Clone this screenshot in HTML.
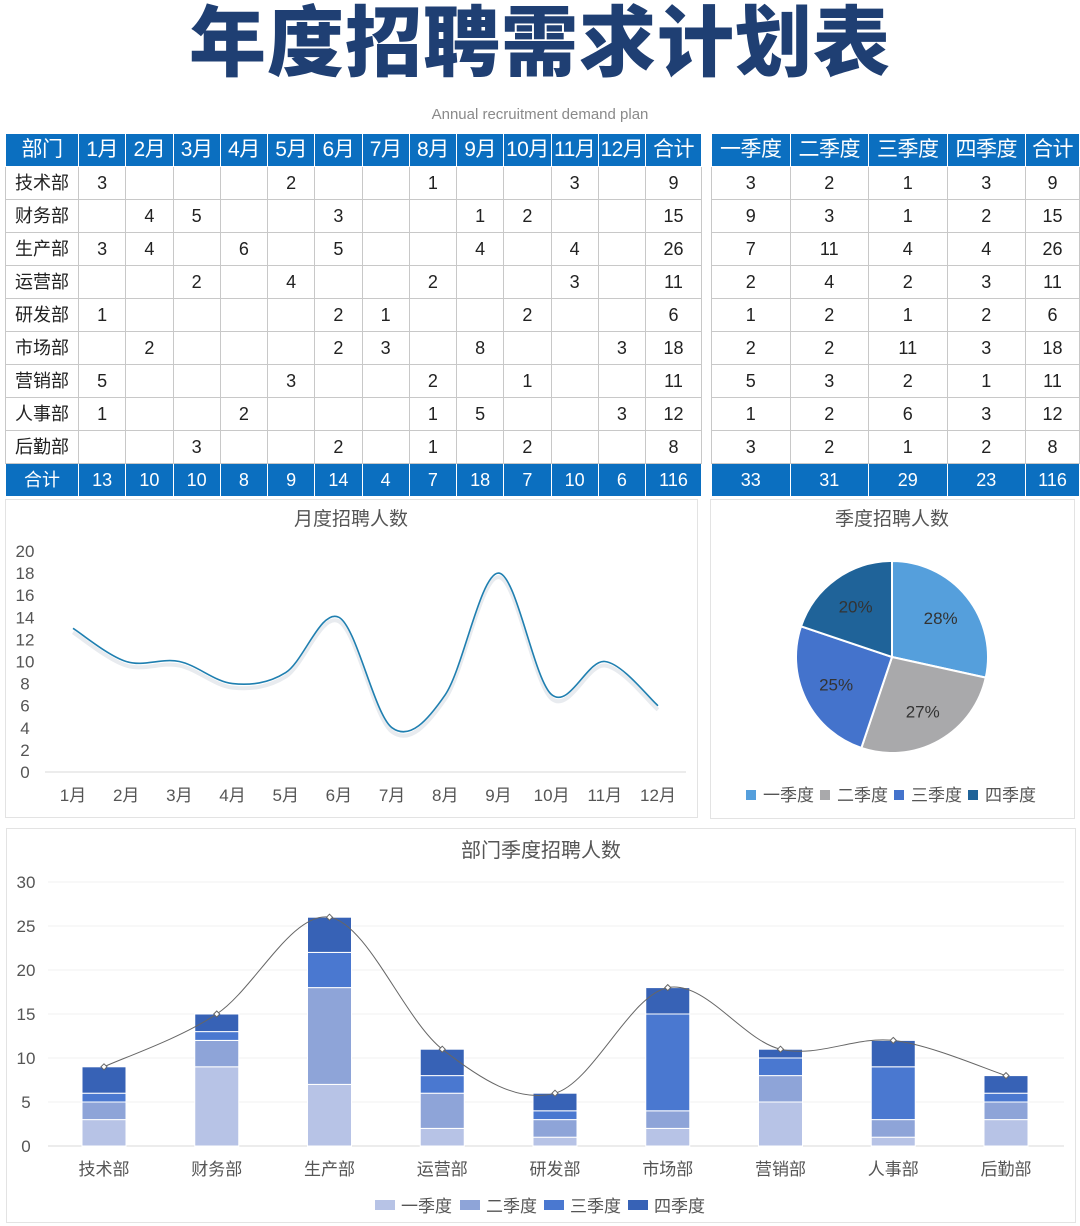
<!DOCTYPE html>
<html><head><meta charset="utf-8">
<style>
body{margin:0;width:1080px;height:1226px;background:#fff;font-family:"Liberation Sans","Noto Sans CJK SC",sans-serif;position:relative;overflow:hidden}
#title{position:absolute;left:0;top:-6px;width:1080px;text-align:center;font-size:77px;font-weight:900;color:#1f3f73;letter-spacing:1px;line-height:100px;white-space:nowrap}
#sub{position:absolute;left:0;top:106px;width:1080px;text-align:center;font-size:15px;color:#8a8a8a}
table{position:absolute;border-collapse:collapse;font-size:18px;color:#222;table-layout:fixed}
td{border:1px solid #c8c8c8;text-align:center;padding:0;height:32px;line-height:32px;white-space:nowrap;overflow:hidden}
tr.h td,tr.t td{background:#0b6fc0;color:#fff;font-size:21px;border-color:#fff;letter-spacing:-0.5px}
tr.t td{font-size:18px;letter-spacing:0}
.panel{position:absolute;border:1px solid #e3e3e3;background:#fff}
</style></head><body>
<div id="title">年度招聘需求计划表</div>
<div id="sub">Annual recruitment demand plan</div>
<table id="t1" style="left:5px;top:133px;width:692px"></table>
<table id="t2" style="left:711px;top:133px;width:363px"></table>
<div class="panel" style="left:5px;top:499px;width:691px;height:317px"></div>
<div class="panel" style="left:710px;top:499px;width:363px;height:318px"></div>
<div class="panel" style="left:6px;top:828px;width:1068px;height:393px"></div>
<svg id="sv" width="1080" height="1226" style="position:absolute;left:0;top:0" font-family="Liberation Sans, Noto Sans CJK SC, sans-serif"></svg>
<script>
const depts=["技术部","财务部","生产部","运营部","研发部","市场部","营销部","人事部","后勤部"];
const months=["1月","2月","3月","4月","5月","6月","7月","8月","9月","10月","11月","12月"];
const grid=[
[3,0,0,0,2,0,0,1,0,0,3,0],
[0,4,5,0,0,3,0,0,1,2,0,0],
[3,4,0,6,0,5,0,0,4,0,4,0],
[0,0,2,0,4,0,0,2,0,0,3,0],
[1,0,0,0,0,2,1,0,0,2,0,0],
[0,2,0,0,0,2,3,0,8,0,0,3],
[5,0,0,0,3,0,0,2,0,1,0,0],
[1,0,0,2,0,0,0,1,5,0,0,3],
[0,0,3,0,0,2,0,1,0,2,0,0]];
const quarters=["一季度","二季度","三季度","四季度"];
const q1=[3,9,7,2,1,2,5,1,3];
const q2=[2,3,11,4,2,2,3,2,2];
const q3=[1,1,4,2,1,11,2,6,1];
const q4=[3,2,4,3,2,3,1,3,2];
const monthTotals=[13,10,10,8,9,14,4,7,18,7,10,6];
const deptTotals=[9,15,26,11,6,18,11,12,8];
const quarterTotals=[33,31,29,23];
const pieLabels=["28%","27%","25%","20%"];

const t1=document.getElementById('t1'),t2=document.getElementById('t2');
function row(tbl,cls,cells,widths){const tr=document.createElement('tr');if(cls)tr.className=cls;
 cells.forEach((c,i)=>{const td=document.createElement('td');td.textContent=c;if(widths)td.style.width=widths[i]+'px';
 
 
 tr.appendChild(td);});tbl.appendChild(tr);}
const w1=[72].concat(Array(12).fill(46.25)).concat([55]);
row(t1,'h',["部门"].concat(months).concat(["合计"]),w1);
depts.forEach((d,i)=>row(t1,'',[d].concat(grid[i].map(v=>v||'')).concat([deptTotals[i]])));
row(t1,'t',["合计"].concat(monthTotals).concat([116]));
const w2=[77.5,77.5,77.5,77.5,53];
row(t2,'h',quarters.concat(["合计"]),w2);
depts.forEach((d,i)=>row(t2,'',[q1[i],q2[i],q3[i],q4[i],deptTotals[i]]));
row(t2,'t',quarterTotals.concat([116]));

const sv=document.getElementById('sv');const NS='http://www.w3.org/2000/svg';
function el(tag,attrs,name,txt){const e=document.createElementNS(NS,tag);for(const k in attrs)e.setAttribute(k,attrs[k]);
 
 
 if(txt!==undefined)e.textContent=txt;sv.appendChild(e);return e;}
function smooth(pts){let d=`M${pts[0][0]},${pts[0][1]}`;for(let i=0;i<pts.length-1;i++){const p0=pts[i-1]||pts[i],p1=pts[i],p2=pts[i+1],p3=pts[i+2]||p2;
 d+=` C${p1[0]+(p2[0]-p0[0])/6},${p1[1]+(p2[1]-p0[1])/6} ${p2[0]-(p3[0]-p1[0])/6},${p2[1]-(p3[1]-p1[1])/6} ${p2[0]},${p2[1]}`;}return d;}

el('text',{x:351,y:525,'text-anchor':'middle','font-size':19,fill:'#555'},'line-chart-title','月度招聘人数');
const lx=i=>73+i*(658-73)/11, ly=v=>772-v*(772-551)/20;
for(let v=0;v<=20;v+=2){el('text',{x:25,y:ly(v)+6,'text-anchor':'middle','font-size':17,fill:'#555'},'y-tick-label',v);}
el('line',{x1:45,x2:686,y1:772,y2:772,stroke:'#d9d9d9'},'x-axis');
months.forEach((m,i)=>el('text',{x:lx(i),y:801,'text-anchor':'middle','font-size':17,fill:'#555'},'x-tick-label',m));
const lp=monthTotals.map((v,i)=>[lx(i),ly(v)]);
el('path',{d:smooth(lp.map(p=>[p[0],p[1]+4])),fill:'none',stroke:'#e8ebef','stroke-width':4},'line-shadow');
el('path',{d:smooth(lp),fill:'none',stroke:'#1f7fb0','stroke-width':1.6},'monthly-line');

el('text',{x:892,y:525,'text-anchor':'middle','font-size':19,fill:'#555'},'pie-chart-title','季度招聘人数');
const pc=['#559fdc','#a9a9ab','#4473cc','#1f6399'];const cx=892,cy=657,r=96;
const sum=quarterTotals.reduce((a,b)=>a+b,0);let ang=-Math.PI/2;
quarterTotals.forEach((v,i)=>{const a2=ang+v/sum*2*Math.PI;
 const x1=cx+r*Math.cos(ang),y1=cy+r*Math.sin(ang),x2=cx+r*Math.cos(a2),y2=cy+r*Math.sin(a2);
 el('path',{d:`M${cx},${cy} L${x1},${y1} A${r},${r} 0 ${a2-ang>Math.PI?1:0} 1 ${x2},${y2} Z`,fill:pc[i],stroke:'#fff','stroke-width':2},'pie-slice');
 const m=(ang+a2)/2;el('text',{x:cx+r*0.65*Math.cos(m),y:cy+r*0.65*Math.sin(m)+6,'text-anchor':'middle','font-size':17,fill:'#333'},'pie-label',pieLabels[i]);
 ang=a2;});
const lgx=[746,820,894,968];
quarters.forEach((q,i)=>{el('rect',{x:lgx[i],y:790,width:10,height:10,fill:pc[i]},'pie-legend-swatch');
 el('text',{x:lgx[i]+17,y:801,'font-size':17,fill:'#555'},'pie-legend-label',q);});

el('text',{x:541,y:857,'text-anchor':'middle','font-size':20,fill:'#555'},'bar-chart-title','部门季度招聘人数');
const by=v=>1146-v*(1146-882)/30, bx=i=>104+i*(1006-104)/8;
for(let v=0;v<=30;v+=5){el('text',{x:26,y:by(v)+6,'text-anchor':'middle','font-size':17,fill:'#555'},'y-tick-label',v);
 el('line',{x1:48,x2:1064,y1:by(v),y2:by(v),stroke:v?'#f0f0f0':'#d9d9d9'},'gridline');}
const bc=['#b7c3e6','#8ea4d8','#4a78d0','#3762b6'];const series=[q1,q2,q3,q4];
depts.forEach((d,i)=>{let acc=0;series.forEach((s,k)=>{const y0=by(acc),y1=by(acc+s[i]);
 el('rect',{x:bx(i)-22,y:y1,width:44,height:y0-y1,fill:bc[k],stroke:'#fff','stroke-width':1},'bar-segment');acc+=s[i];});
 el('text',{x:bx(i),y:1175,'text-anchor':'middle','font-size':17,fill:'#555'},'x-tick-label',d);});
const tp=deptTotals.map((v,i)=>[bx(i),by(v)]);
el('path',{d:smooth(tp),fill:'none',stroke:'#666','stroke-width':1},'total-line');
tp.forEach(p=>el('path',{d:`M${p[0]},${p[1]-3} L${p[0]+3},${p[1]} L${p[0]},${p[1]+3} L${p[0]-3},${p[1]} Z`,fill:'#fff',stroke:'#666'},'total-marker'));
const blx=[375,460,544,628];
quarters.forEach((q,i)=>{el('rect',{x:blx[i],y:1200,width:20,height:10,fill:bc[i]},'bar-legend-swatch');
 el('text',{x:blx[i]+26,y:1212,'font-size':17,fill:'#555'},'bar-legend-label',q);});
</script>
</body></html>
